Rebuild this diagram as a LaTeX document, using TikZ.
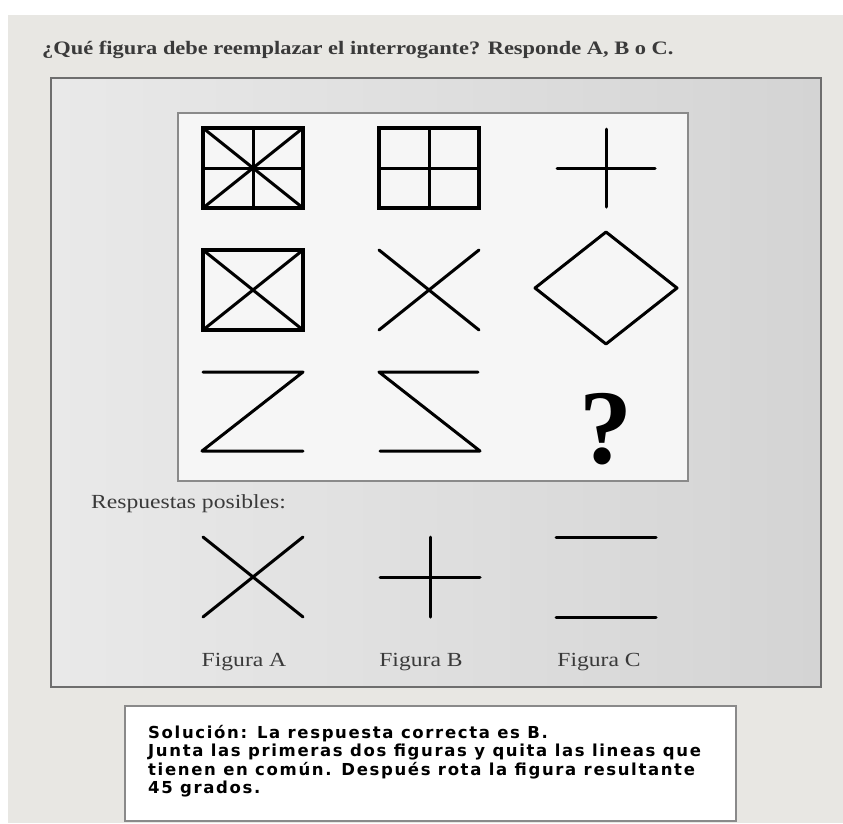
\documentclass[tikz,border=0pt]{standalone}
\usepackage{fontspec}
\setmainfont{Liberation Serif}
\newfontfamily\widefont{Liberation Serif}[FakeStretch=1.18]
\newfontfamily\solfont{DejaVu Sans}[LetterSpace=10]
\usepackage{tikz}
\usetikzlibrary{positioning, calc, backgrounds}

\definecolor{pagebg}{HTML}{E8E7E3}
\definecolor{panelleft}{HTML}{E9E9E9}
\definecolor{panelright}{HTML}{D4D4D4}
\definecolor{panelline}{HTML}{6E6E6E}
\definecolor{gridline}{HTML}{8A8A8A}
\definecolor{textgray}{HTML}{3A3A3A}

\begin{document}
\begin{tikzpicture}[
    x=1pt, y=-1pt,
    % Styles
    figline/.style={line width=3pt, line cap=round, line join=round},
    framefig/.style={line width=3.6pt, line join=miter},
    serifbig/.style={font=\widefont\bfseries\fontsize{19}{22}\selectfont, text=textgray, inner sep=0pt},
    seriflabel/.style={font=\widefont\fontsize{20}{24}\selectfont, text=textgray, inner sep=0pt},
    solbox/.style={rectangle, draw=gridline, line width=2pt, fill=white},
    soltext/.style={font=\solfont\bfseries\fontsize{16.5}{18.4}\selectfont, align=left, inner sep=0pt}
]

% --- Page and panels ---
\fill[white] (0,0) rectangle (843,823);
\useasboundingbox (0,0) rectangle (843,823);
\fill[pagebg] (8,15) rectangle (843,823);

\node[serifbig, anchor=base west] (question) at (42,54) {¿Qué figura debe reemplazar el interrogante? Responde A, B o C.};

\shade[left color=panelleft, right color=panelright] (51,78) rectangle (821,687);
\draw[panelline, line width=2.2pt] (51,78) rectangle (821,687);

\fill[gray!7] (178,113) rectangle (688,481);
\draw[gridline, line width=2pt] (178,113) rectangle (688,481);

% --- Row 1 ---
\begin{scope}[shift={(253,168)}]
    \draw[figline] (-50,-40) -- (50,40) (-50,40) -- (50,-40);
    \draw[figline] (0,-40) -- (0,40) (-50,0) -- (50,0);
    \draw[framefig] (-50,-40) rectangle (50,40);
\end{scope}
\begin{scope}[shift={(429,168)}]
    \draw[figline] (0,-40) -- (0,40) (-50,0) -- (50,0);
    \draw[framefig] (-50,-40) rectangle (50,40);
\end{scope}
\begin{scope}[shift={(606,168)}]
    \draw[figline] (0,-39) -- (0,39) (-49,0) -- (49,0);
\end{scope}

% --- Row 2 ---
\begin{scope}[shift={(253,290)}]
    \draw[figline] (-50,-40) -- (50,40) (-50,40) -- (50,-40);
    \draw[framefig] (-50,-40) rectangle (50,40);
\end{scope}
\begin{scope}[shift={(429,290)}]
    \draw[figline] (-50,-40) -- (50,40) (-50,40) -- (50,-40);
\end{scope}
\begin{scope}[shift={(606,288)}]
    \draw[figline] (-71,0) -- (0,-56) -- (71,0) -- (0,56) -- cycle;
\end{scope}

% --- Row 3 ---
\begin{scope}[shift={(253,411)}]
    \draw[figline] (-50,-39) -- (50,-39) -- (-51,40) -- (50,40);
\end{scope}
\begin{scope}[shift={(429,411)}]
    \draw[figline] (49,-39) -- (-50,-39) -- (51,40) -- (-49,40);
\end{scope}
\node[font=\bfseries\fontsize{106}{106}\selectfont, inner sep=0pt, anchor=base] (mark) at (606,463) {?};

% --- Possible answers ---
\node[seriflabel, anchor=base west] (answers) at (91,508) {Respuestas posibles:};

\begin{scope}[shift={(253,577)}]
    \draw[figline] (-50,-40) -- (50,40) (-50,40) -- (50,-40);
\end{scope}
\begin{scope}[shift={(430,577)}]
    \draw[figline] (0,-40) -- (0,40) (-50,0) -- (50,0);
\end{scope}
\begin{scope}[shift={(606,577)}]
    \draw[figline] (-50,-40) -- (50,-40) (-50,40) -- (50,40);
\end{scope}

\node[seriflabel, anchor=base] (figA) at (244,666) {Figura A};
\node[seriflabel, anchor=base] (figB) at (421,666) {Figura B};
\node[seriflabel, anchor=base] (figC) at (599,666) {Figura C};

% --- Solution ---
\draw[solbox] (125,706) rectangle (736,821);
\node[soltext, anchor=north west] (solution) at (148,725) {Solución: La respuesta correcta es B.\\
Junta las primeras dos figuras y quita las lineas que\\
tienen en común. Después rota la figura resultante\\
45 grados.};

\end{tikzpicture}
\end{document}
